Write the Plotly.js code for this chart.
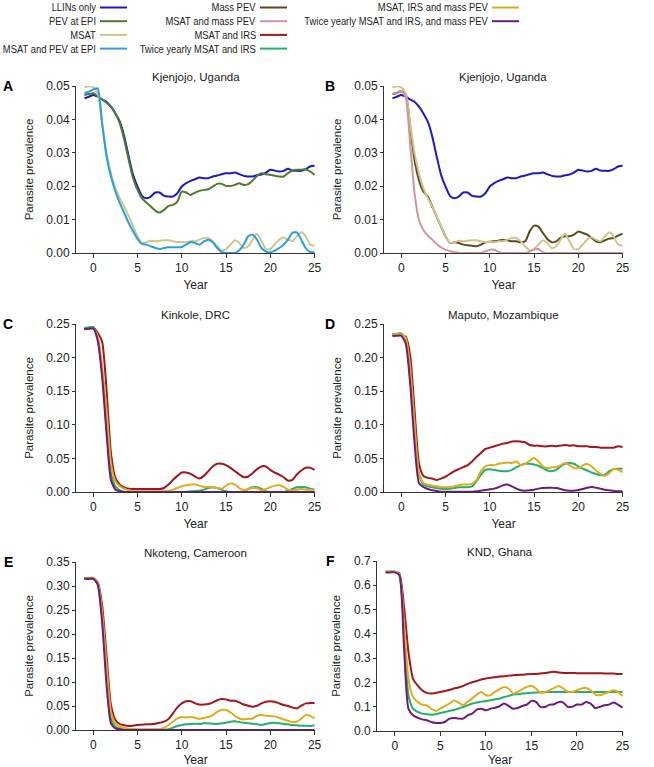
<!DOCTYPE html>
<html><head><meta charset="utf-8">
<script src="https://cdn.plot.ly/plotly-3.0.1.min.js"></script>
<style>html,body{margin:0;padding:0;background:#fff}#plot{width:654px;height:767px}</style>
</head><body><div id="plot"></div>
<script>
var years = [-1,-0.5,0,0.5,1,1.5,2,2.5,3,3.5,4,4.5,5,5.5,6,6.5,7,7.5,8,8.5,9,9.5,10,10.5,11,11.5,12,12.5,13,13.5,14,14.5,15,15.5,16,16.5,17,17.5,18,18.5,19,19.5,20,20.5,21,21.5,22,22.5,23,23.5,24,24.5,25];

var seriesNames = ["LLINs only","PEV at EPI","MSAT","MSAT and PEV at EPI","Mass PEV","MSAT and mass PEV","MSAT and IRS","Twice yearly MSAT and IRS","MSAT, IRS and mass PEV","Twice yearly MSAT and IRS, and mass PEV"];
var seriesColors = ["#1a1acc","#4f7a2c","#cfc48a","#2a9ee0","#5c4a1e","#d4949e","#a3161c","#22b06c","#e0ac1c","#6e1a7e"];

var panelTitles = ["Kjenjojo, Uganda","Kjenjojo, Uganda","Kinkole, DRC","Maputo, Mozambique","Nkoteng, Cameroon","KND, Ghana"];
var panelLetters = ["A","B","C","D","E","F"];

// Kjenjojo, Uganda
var llins = [0.0463,0.0468,0.0473,0.0468,0.0460,0.0453,0.0438,0.0418,0.0393,0.0349, 0.0289,0.0234,0.0199,0.0171,0.0164,0.0169,0.0181,0.0181,0.0171,0.0169, 0.0169,0.0179,0.0199,0.0209,0.0216,0.0221,0.0226,0.0224,0.0224,0.0229, 0.0232,0.0236,0.0239,0.0239,0.0241,0.0236,0.0231,0.0229,0.0229,0.0233, 0.0235,0.0241,0.0249,0.0247,0.0244,0.0246,0.0252,0.0247,0.0246,0.0246, 0.0251,0.0259,0.0261];
var pevEpi = [0.0473,0.0476,0.0478,0.0470,0.0460,0.0450,0.0438,0.0418,0.0388,0.0339, 0.0279,0.0224,0.0189,0.0164,0.0151,0.0139,0.0127,0.0121,0.0129,0.0141, 0.0144,0.0154,0.0184,0.0181,0.0174,0.0181,0.0186,0.0189,0.0191,0.0199, 0.0207,0.0207,0.0201,0.0201,0.0204,0.0209,0.0204,0.0206,0.0217,0.0231, 0.0239,0.0236,0.0234,0.0231,0.0229,0.0229,0.0239,0.0247,0.0249,0.0249, 0.0251,0.0244,0.0234];
var msat = [0.0496,0.0499,0.0496,0.0478,0.0388,0.0299,0.0239,0.0194,0.0164,0.0139, 0.0110,0.0080,0.0050,0.0030,0.0032,0.0037,0.0035,0.0037,0.0038,0.0038, 0.0035,0.0033,0.0033,0.0032,0.0035,0.0035,0.0040,0.0045,0.0045,0.0035, 0.0020,0.0008,0.0012,0.0025,0.0038,0.0030,0.0015,0.0020,0.0040,0.0058, 0.0035,0.0012,0.0012,0.0025,0.0040,0.0047,0.0040,0.0035,0.0050,0.0062, 0.0050,0.0025,0.0022];
var msatPevEpi = [0.0478,0.0483,0.0490,0.0493,0.0388,0.0289,0.0229,0.0184,0.0149,0.0120, 0.0090,0.0065,0.0042,0.0027,0.0025,0.0020,0.0015,0.0012,0.0015,0.0017, 0.0017,0.0017,0.0018,0.0025,0.0033,0.0030,0.0025,0.0035,0.0040,0.0032, 0.0015,0.0003,0.0000,0.0000,0.0000,0.0008,0.0025,0.0050,0.0055,0.0040, 0.0015,0.0005,0.0002,0.0007,0.0015,0.0025,0.0040,0.0060,0.0062,0.0040, 0.0015,0.0003,0.0002];
var massPev = [0.0476,0.0479,0.0484,0.0476,0.0377,0.0278,0.0218,0.0184,0.0169,0.0139, 0.0109,0.0079,0.0050,0.0030,0.0032,0.0030,0.0025,0.0023,0.0022,0.0020, 0.0025,0.0032,0.0034,0.0035,0.0037,0.0040,0.0038,0.0035,0.0035,0.0032, 0.0035,0.0064,0.0082,0.0079,0.0060,0.0042,0.0032,0.0035,0.0045,0.0050, 0.0050,0.0055,0.0064,0.0060,0.0055,0.0045,0.0035,0.0032,0.0038,0.0043, 0.0045,0.0052,0.0058];
var msatMassPev = [0.0476,0.0480,0.0486,0.0466,0.0327,0.0179,0.0099,0.0069,0.0052,0.0040, 0.0027,0.0017,0.0010,0.0005,0.0003,0.0001,0,0,0,0, 0,0.0005,0.0010,0.0010,0.0003,0,0,0,0,0, 0,0.0004,0.0010,0.0012,0.0002,0,0,0,0,0, 0,0,0,0,0,0,0,0,0,0, 0,0,0];

// Kinkole, DRC
var cIrs = [0.243,0.244,0.245,0.237,0.224,0.152,0.058,0.021,0.011,0.007, 0.005,0.0045,0.0045,0.0045,0.0045,0.0045,0.0045,0.0045,0.006,0.011, 0.018,0.024,0.029,0.029,0.027,0.023,0.020,0.024,0.031,0.038, 0.042,0.042,0.040,0.036,0.031,0.026,0.022,0.023,0.028,0.034, 0.038,0.038,0.033,0.029,0.026,0.022,0.017,0.018,0.026,0.032, 0.036,0.036,0.033];
var cTwice = [0.244,0.245,0.2455,0.229,0.177,0.098,0.028,0.0085,0.0025,0.0005, 0,0,0,0,0,0,0,0,0,0, 0,0,0,0.0005,0.001,0.0015,0.002,0.0035,0.006,0.007, 0.006,0.0035,0.001,0,0,0,0.001,0.0045,0.007,0.007, 0.0045,0.001,0,0,0,0,0.0015,0.0045,0.007,0.0075, 0.007,0.005,0.0035];
var cIrsPev = [0.242,0.2425,0.243,0.232,0.187,0.123,0.043,0.016,0.0085,0.005, 0.0025,0.001,0.001,0.001,0.001,0.001,0.001,0.001,0.001,0.002, 0.0035,0.006,0.0085,0.010,0.011,0.011,0.0095,0.0075,0.0075,0.007, 0.006,0.005,0.0095,0.0125,0.011,0.006,0.0025,0.0045,0.006,0.0055, 0.0025,0.0045,0.007,0.0095,0.010,0.0075,0.0035,0.0025,0.0035,0.0045, 0.0035,0.0035,0.0025];
var cTwicePev = [0.2425,0.243,0.2435,0.2255,0.172,0.087,0.018,0.0035,0.001,0, 0,0,0,0,0,0,0,0,0,0, 0,0,0,0,0,0,0,0,0,0, 0,0,0,0,0,0,0,0,0,0, 0,0,0,0,0,0,0,0,0,0, 0,0,0];

// Maputo, Mozambique
var dIrs = [0.2337,0.2337,0.2337,0.231,0.204,0.122,0.043,0.024,0.021,0.020, 0.018,0.020,0.023,0.027,0.031,0.034,0.037,0.040,0.0455,0.052, 0.058,0.064,0.066,0.068,0.070,0.072,0.073,0.075,0.0757,0.075, 0.074,0.070,0.069,0.069,0.068,0.068,0.069,0.068,0.069,0.070, 0.069,0.0695,0.068,0.068,0.068,0.067,0.067,0.066,0.066,0.066, 0.066,0.068,0.067];
var dTwice = [0.235,0.2355,0.236,0.229,0.182,0.0975,0.026,0.011,0.0084,0.007, 0.006,0.005,0.0045,0.005,0.006,0.007,0.007,0.007,0.0084,0.016, 0.026,0.033,0.034,0.033,0.0317,0.031,0.031,0.033,0.0366,0.040, 0.042,0.042,0.041,0.039,0.0356,0.032,0.031,0.033,0.038,0.042, 0.043,0.042,0.038,0.0347,0.032,0.029,0.0267,0.0248,0.0257,0.031, 0.034,0.0347,0.0347];
var dIrsPev = [0.2347,0.2347,0.2347,0.229,0.186,0.102,0.028,0.0134,0.011,0.0094, 0.0084,0.0074,0.007,0.0074,0.0084,0.0099,0.011,0.011,0.012,0.018, 0.031,0.038,0.040,0.040,0.042,0.043,0.044,0.043,0.0455,0.040, 0.042,0.0465,0.0505,0.0455,0.038,0.0356,0.0366,0.037,0.040,0.043, 0.040,0.0356,0.0356,0.0396,0.0416,0.038,0.032,0.027,0.024,0.028, 0.034,0.033,0.0297];
var dTwicePev = [0.232,0.2325,0.2327,0.221,0.162,0.073,0.0134,0.0074,0.0045,0.0025, 0.0015,0.0005,0.0005,0.0005,0.0005,0.0005,0.0005,0.0005,0.0005,0.001, 0.002,0.003,0.004,0.005,0.007,0.010,0.011,0.0084,0.005,0.0025, 0.002,0.0025,0.0035,0.005,0.006,0.0064,0.0064,0.006,0.0045,0.0025, 0.002,0.002,0.003,0.0045,0.0064,0.0074,0.0064,0.005,0.0035,0.0025, 0.0015,0.001,0.001];

// Nkoteng, Cameroon
var eIrs = [0.3153,0.3153,0.3153,0.308,0.260,0.156,0.052,0.021,0.0125,0.0097, 0.0083,0.009,0.0104,0.011,0.0118,0.0118,0.013,0.015,0.0173,0.023, 0.0347,0.047,0.0555,0.060,0.060,0.0555,0.053,0.053,0.054,0.0575, 0.062,0.0645,0.0638,0.061,0.061,0.0575,0.053,0.0506,0.0485,0.0506, 0.0555,0.059,0.060,0.059,0.0555,0.052,0.050,0.047,0.045,0.0506, 0.0555,0.056,0.056];
var eTwice = [0.3167,0.3167,0.3167,0.305,0.2356,0.114,0.024,0.007,0.0028,0.0007, 0.0007,0.0007,0.0007,0.0007,0.0007,0.0007,0.0007,0.0007,0.0007,0.0014, 0.005,0.0083,0.0104,0.0118,0.0125,0.013,0.0125,0.0139,0.0139,0.013, 0.0125,0.0139,0.015,0.0173,0.018,0.0166,0.015,0.0139,0.013,0.0118, 0.0104,0.0125,0.0146,0.015,0.0139,0.0125,0.0118,0.0104,0.0097,0.009, 0.009,0.0083,0.0097];
var eIrsPev = [0.3167,0.3167,0.3167,0.307,0.246,0.135,0.038,0.0139,0.007,0.0042, 0.0028,0.002,0.0014,0.0014,0.0014,0.0014,0.0014,0.002,0.0042,0.0104, 0.0173,0.024,0.027,0.0263,0.027,0.0256,0.023,0.0256,0.027,0.031, 0.038,0.0416,0.0416,0.0367,0.0298,0.024,0.022,0.023,0.024,0.0298, 0.031,0.0298,0.029,0.0284,0.0256,0.022,0.0194,0.0166,0.0173,0.024, 0.031,0.0298,0.024];
var eTwicePev = [0.3153,0.3153,0.3153,0.303,0.225,0.0936,0.0139,0.0035,0.0014,0, 0,0,0,0,0,0,0,0,0,0, 0,0,0,0,0,0,0,0,0,0, 0,0,0,0,0,0,0,0,0,0, 0,0,0,0,0,0,0,0,0,0, 0,0,0];

// KND, Ghana
var fIrs = [0.656,0.656,0.656,0.649,0.5186,0.326,0.216,0.188,0.168,0.157, 0.154,0.157,0.161,0.165,0.169,0.175,0.179,0.186,0.194,0.201, 0.206,0.212,0.216,0.219,0.2215,0.224,0.2255,0.228,0.230,0.231, 0.232,0.234,0.235,0.235,0.2366,0.239,0.242,0.2435,0.241,0.239, 0.239,0.239,0.238,0.238,0.238,0.238,0.238,0.238,0.2366,0.2366, 0.2366,0.235,0.235];
var fTwice = [0.656,0.656,0.656,0.642,0.422,0.147,0.092,0.0784,0.0715,0.0688, 0.0674,0.0688,0.0743,0.0784,0.0825,0.0867,0.092,0.099,0.106,0.113, 0.117,0.121,0.124,0.1265,0.1306,0.1334,0.14,0.1444,0.15,0.1513, 0.154,0.1554,0.157,0.159,0.16,0.16,0.161,0.161,0.161,0.161, 0.161,0.161,0.161,0.161,0.161,0.161,0.161,0.161,0.161,0.161, 0.161,0.161,0.161];
var fIrsPev = [0.656,0.656,0.656,0.645,0.45,0.216,0.14,0.12,0.1087,0.106, 0.092,0.0825,0.092,0.103,0.113,0.1265,0.117,0.106,0.12,0.1334, 0.15,0.161,0.147,0.147,0.161,0.172,0.1815,0.175,0.154,0.161, 0.172,0.1815,0.186,0.175,0.157,0.161,0.168,0.1775,0.185,0.175, 0.161,0.161,0.168,0.175,0.1775,0.168,0.15,0.147,0.154,0.161, 0.168,0.161,0.1444];
var fTwicePev = [0.653,0.653,0.653,0.642,0.3535,0.092,0.0646,0.055,0.048,0.044, 0.037,0.033,0.033,0.037,0.051,0.0536,0.051,0.051,0.0646,0.0715, 0.088,0.092,0.085,0.092,0.096,0.102,0.113,0.103,0.092,0.095, 0.103,0.1087,0.124,0.1196,0.099,0.099,0.1087,0.110,0.1196,0.117, 0.099,0.1004,0.1087,0.1087,0.1196,0.1128,0.095,0.099,0.106,0.1087, 0.117,0.1087,0.096];

var yMax = [0.05,0.05,0.25,0.25,0.35,0.7];
var yStep = [0.01,0.01,0.05,0.05,0.05,0.1];
var yFmt = [".2f",".2f",".2f",".2f",".2f",".1f"];
var xTicks = [0,5,10,15,20,25];

// panel contents: [series index, data]
var panels = [
  [[0,llins],[1,pevEpi],[2,msat],[3,msatPevEpi]],
  [[0,llins],[4,massPev],[2,msat],[5,msatMassPev]],
  [[6,cIrs],[7,cTwice],[8,cIrsPev],[9,cTwicePev]],
  [[6,dIrs],[7,dTwice],[8,dIrsPev],[9,dTwicePev]],
  [[6,eIrs],[7,eTwice],[8,eIrsPev],[9,eTwicePev]],
  [[6,fIrs],[7,fTwice],[8,fIrsPev],[9,fTwicePev]]
];

var W = 654, H = 767;
// pixel boxes [left, right, top, bottom]
var boxes = [[76,315,86,253],[384,623,86,253],[76,315,324,492],[384,623,324,492],[76,315,562,730],[377,623,561,731]];

var FONT = "Liberation Sans, Arial, Helvetica, sans-serif";
var traces = [];
var layout = {
  width: W, height: H, margin: {l:0,r:0,t:0,b:0},
  paper_bgcolor: "#fff", plot_bgcolor: "#fff",
  showlegend: false, font: {family: FONT, size: 12, color: "#222"},
  annotations: [], shapes: []
};

panels.forEach(function(p, i){
  var sfx = i === 0 ? "" : String(i+1);
  p.forEach(function(item){
    traces.push({
      type: "scatter", mode: "lines", x: years, y: item[1],
      xaxis: "x"+sfx, yaxis: "y"+sfx, name: seriesNames[item[0]],
      line: {color: seriesColors[item[0]], width: 2, shape: "spline", smoothing: 0.6},
      hoverinfo: "skip"
    });
  });
  var b = boxes[i];
  layout["xaxis"+sfx] = {
    domain: [b[0]/W, b[1]/W], anchor: "y"+sfx, range: [-1.95, 25.05],
    tickvals: xTicks, ticks: "outside", ticklen: 4, tickcolor: "#333",
    showline: true, linecolor: "#333", linewidth: 1, showgrid: false, zeroline: false,
    tickfont: {size: 12, color: "#222"},
    title: {text: "Year", font: {size: 12, color: "#222"}, standoff: 6}
  };
  layout["yaxis"+sfx] = {
    domain: [1 - b[3]/H, 1 - b[2]/H], anchor: "x"+sfx, range: [0, yMax[i]],
    dtick: yStep[i], tick0: 0, tickformat: yFmt[i], ticks: "outside", ticklen: 3, tickcolor: "#333",
    showline: true, linecolor: "#333", linewidth: 1, showgrid: false, zeroline: false,
    tickfont: {size: 12, color: "#222"},
    title: {text: "Parasite prevalence", font: {size: 11.5, color: "#222"}, standoff: 10}
  };
  layout.annotations.push({
    xref: "paper", yref: "paper", x: (b[0]+b[1])/2/W, y: 1 - (b[2]-9)/H,
    xanchor: "center", yanchor: "middle", showarrow: false,
    text: panelTitles[i], font: {size: 11.5, color: "#222"}
  });
  layout.annotations.push({
    xref: "paper", yref: "paper", x: (i % 2 === 0 ? 8 : 330)/W, y: 1 - b[2]/H,
    xanchor: "center", yanchor: "middle", showarrow: false,
    text: "<b>" + panelLetters[i] + "</b>", font: {size: 14, color: "#000"}
  });
});

// legend drawn as text + line samples (text right-aligned, sample to its right)
var legendCols = [[0,1,2,3],[4,5,6,7],[8,9]];
var colTextRight = [98, 258, 490];
var nPanelAnn = layout.annotations.length;
legendCols.forEach(function(col, c){
  col.forEach(function(si, r){
    var yy = 7.5 + 13.7*r;
    layout.annotations.push({
      xref: "paper", yref: "paper", x: colTextRight[c]/W, y: 1 - yy/H,
      xanchor: "right", yanchor: "middle", showarrow: false,
      text: seriesNames[si], font: {size: 11, color: "#222"}
    });
    layout.shapes.push({
      type: "line", xref: "paper", yref: "paper",
      x0: (colTextRight[c]+2)/W, x1: (colTextRight[c]+29)/W, y0: 1 - yy/H, y1: 1 - yy/H,
      line: {color: seriesColors[si], width: 2}
    });
  });
});

Plotly.newPlot("plot", traces, layout, {staticPlot: true, displayModeBar: false}).then(function(){
  // narrow the legend labels horizontally, keeping their right edges fixed
  var s = 0.855;
  document.querySelectorAll("#plot .annotation").forEach(function(g){
    var idx = +g.getAttribute("data-index");
    if (idx < nPanelAnn) return;
    var t = g.querySelector("text");
    if (!t) return;
    var bb = t.getBBox();
    var right = bb.x + bb.width;
    var prev = t.getAttribute("transform") || "";
    t.setAttribute("transform", "translate(" + (right*(1-s)) + ",0) scale(" + s + ",1) " + prev);
  });
});
</script></body></html>
